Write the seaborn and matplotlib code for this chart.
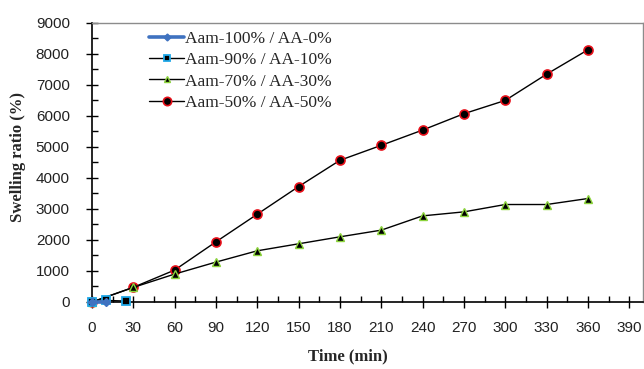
import numpy as np
import pandas as pd
import matplotlib
matplotlib.use("Agg")
import matplotlib.pyplot as plt
import seaborn as sns
from matplotlib.ticker import MultipleLocator
from matplotlib.lines import Line2D

sns.set_theme(style="white")
plt.rcParams['font.family'] = ['Liberation Sans', 'DejaVu Sans']

# Data
labels = ["Aam-100% / AA-0%", "Aam-90% / AA-10%", "Aam-70% / AA-30%", "Aam-50% / AA-50%"]
t_100 = [0, 10]
s_100 = [0, 0]
t_90 = [0, 10, 25]
s_90 = [0, 50, 30]
t_70 = [0, 30, 60, 90, 120, 150, 180, 210, 240, 270, 300, 330, 360]
s_70 = [0, 470, 900, 1286, 1650, 1875, 2100, 2315, 2775, 2904, 3141, 3141, 3334]
t_50 = [0, 30, 60, 90, 120, 150, 180, 210, 240, 270, 300, 330, 360]
s_50 = [0, 473, 1029, 1939, 2830, 3720, 4566, 5048, 5540, 6067, 6495, 7340, 8125]
x_ticks = list(range(0, 391, 30))
y_ticks = list(range(0, 9001, 1000))

styles = {
    labels[0]: dict(color="#3F72C0", lw=2.6, marker="D", mfc="#3F72C0", mec="#3F72C0", ms=4),
    labels[1]: dict(color="black", lw=1.0, marker="s", mfc="black", mec="#1FA8E8", ms=5.5, mew=1.3),
    labels[2]: dict(color="black", lw=1.0, marker="^", mfc="black", mec="#8CD43C", ms=5.5, mew=1.0),
    labels[3]: dict(color="black", lw=1.0, marker="o", mfc="black", mec="#E8101A", ms=6.5, mew=1.2),
}

frames = []
for lab, t, s in [(labels[0], t_100, s_100), (labels[1], t_90, s_90),
                  (labels[2], t_70, s_70), (labels[3], t_50, s_50)]:
    frames.append(pd.DataFrame({"Time": t, "Swelling": s, "Sample": lab}))
df = pd.concat(frames, ignore_index=True)

fig = plt.figure(figsize=(6.44, 3.69), dpi=100)
ax = fig.add_axes([0.1429, 0.1816, 0.8555, 0.7569])

handles = []
order = [labels[3], labels[2], labels[1], labels[0]]
for lab in order:
    st = styles[lab]
    sub = df[df["Sample"] == lab]
    sns.lineplot(data=sub, x="Time", y="Swelling", ax=ax, color=st["color"],
                 linewidth=st["lw"], marker=st["marker"], markerfacecolor=st["mfc"],
                 markeredgecolor=st["mec"], markersize=st["ms"],
                 markeredgewidth=st.get("mew", 1.0), legend=False, zorder=3, clip_on=False)

for lab in labels:
    st = styles[lab]
    handles.append(Line2D([], [], color=st["color"], lw=st["lw"], marker=st["marker"],
                          mfc=st["mfc"], mec=st["mec"], ms=st["ms"] - 0.5,
                          mew=st.get("mew", 1.0)))

ax.set_xlim(0, 400)
ax.set_ylim(0, 9000)
ax.set_xticks(x_ticks)
ax.set_yticks(y_ticks)
ax.xaxis.set_minor_locator(MultipleLocator(15))
ax.yaxis.set_minor_locator(MultipleLocator(500))
ax.tick_params(axis="both", which="major", direction="inout", length=8, width=1,
               color="black", labelsize=11, labelcolor="#222222")
ax.tick_params(axis="both", which="minor", direction="in", length=4, width=1, color="black")
ax.tick_params(axis="x", which="major", pad=10)
ax.tick_params(axis="y", which="major", pad=12)
ax.tick_params(axis="both", which="both", bottom=True, left=True, top=False, right=False)

for side in ["left", "bottom"]:
    ax.spines[side].set_color("black")
    ax.spines[side].set_linewidth(1.2)
for side in ["top", "right"]:
    ax.spines[side].set_color("#8c8c8c")
    ax.spines[side].set_linewidth(1.0)

ax.set_xlabel("Time (min)", fontsize=12, fontweight="bold",
              family=["Liberation Serif", "DejaVu Serif"], va="center")
ax.set_ylabel("Swelling ratio (%)", fontsize=12, fontweight="bold",
              family=["Liberation Serif", "DejaVu Serif"], va="center")
ax.xaxis.set_label_coords(0.465, -0.196)
ax.yaxis.set_label_coords(-0.134, 0.52)
ax.grid(False)

leg = ax.legend(handles, labels, loc="upper left", bbox_to_anchor=(0.082, 1.015),
                frameon=False, prop={"family": ["Liberation Serif", "DejaVu Serif"], "size": 12.5},
                handlelength=2.0, handletextpad=0.05, labelspacing=0.3, borderaxespad=0.3)

fig.savefig("out.png", dpi=100)
